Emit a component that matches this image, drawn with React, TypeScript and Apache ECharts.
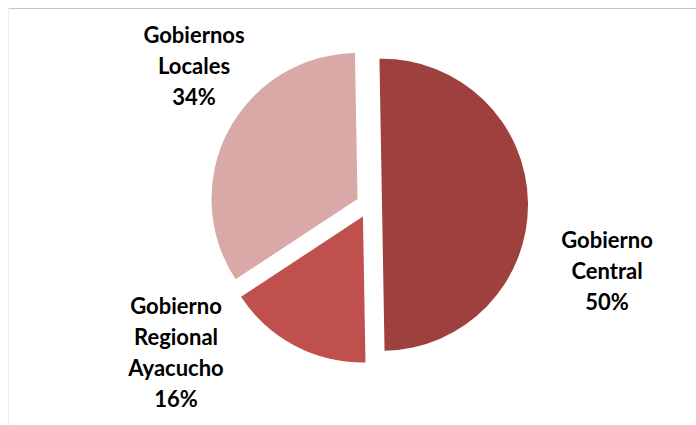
import React, { useEffect, useRef } from "react";
import * as echarts from "echarts";

const categories = ["Gobierno Central", "Gobierno Regional Ayacucho", "Gobiernos Locales"];
const values = [50, 16, 34];
const colors = ["#9D403E", "#C0504D", "#D9A9A8"];
// label block centres (layout only)
const labelPos: [number, number][] = [
  [607, 270],
  [176, 352],
  [194, 65],
];

export default function App() {
  const ref = useRef<HTMLDivElement>(null);
  useEffect(() => {
    if (!ref.current) return;
    const chart = echarts.init(ref.current, null, { renderer: "svg" });
    const total = values.reduce((a, b) => a + b, 0);
    const labelTexts = categories.map(
      (name, i) => name.split(" ").join("\n") + "\n" + Math.round((values[i] / total) * 100) + "%"
    );
    chart.setOption({
      animation: false,
      backgroundColor: "#ffffff",
      graphic: [
        {
          type: "line",
          shape: { x1: 8.5, y1: 8.5, x2: 700, y2: 8.5 },
          style: { stroke: "#c6c6c6", lineWidth: 1 },
          silent: true,
        },
        {
          type: "line",
          shape: { x1: 8.5, y1: 8.5, x2: 8.5, y2: 430 },
          style: { stroke: "#ededed", lineWidth: 1 },
          silent: true,
        },
        ...labelTexts.map((t, i) => ({
          type: "text",
          x: labelPos[i][0],
          y: labelPos[i][1],
          silent: true,
          style: {
            text: t,
            align: "center",
            verticalAlign: "middle",
            fontFamily: "Lato",
            fontWeight: "bold",
            fontSize: 22,
            lineHeight: 31,
            fill: "#000000",
          },
        })),
      ],
      series: [
        {
          type: "pie",
          center: [369, 205],
          radius: 146,
          startAngle: 91,
          clockwise: true,
          selectedMode: "multiple",
          selectedOffset: 13,
          emphasis: { disabled: true },
          itemStyle: { borderWidth: 0 },
          data: categories.map((name, i) => ({
            name,
            value: values[i],
            selected: true,
            itemStyle: { color: colors[i] },
          })),
          label: { show: false },
          labelLine: { show: false },
        },
      ],
    });
    return () => chart.dispose();
  }, []);
  return (
    <div
      ref={ref}
      style={{ position: "fixed", left: 0, top: 0, width: 696, height: 425 }}
    />
  );
}
